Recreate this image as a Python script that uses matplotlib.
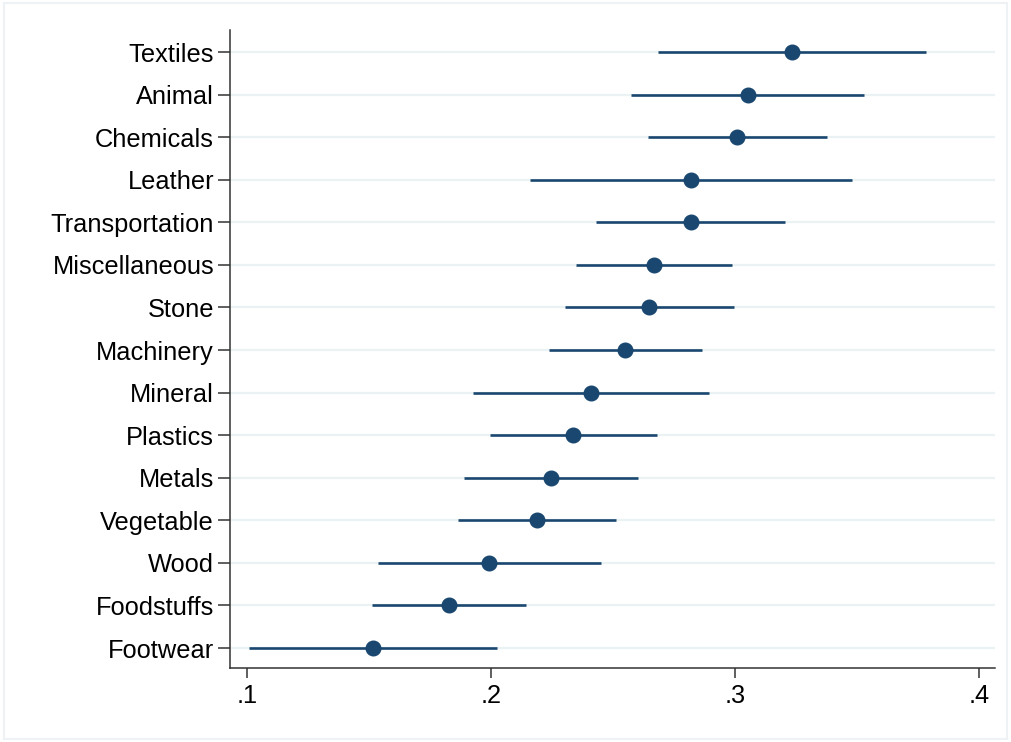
import numpy as np
from matplotlib import pyplot as plt
from matplotlib.patches import Rectangle

# data (top to bottom)
sectors = ['Textiles', 'Animal', 'Chemicals', 'Leather', 'Transportation',
           'Miscellaneous', 'Stone', 'Machinery', 'Mineral', 'Plastics',
           'Metals', 'Vegetable', 'Wood', 'Foodstuffs', 'Footwear']
estimate = [0.3234, 0.3053, 0.3008, 0.2820, 0.2820,
            0.2668, 0.2648, 0.2549, 0.2410, 0.2336,
            0.2246, 0.2189, 0.1992, 0.1828, 0.1516]
ci_low = [0.2684, 0.2574, 0.2643, 0.2160, 0.2430,
          0.2348, 0.2303, 0.2238, 0.1926, 0.1996,
          0.1889, 0.1865, 0.1537, 0.1512, 0.1008]
ci_high = [0.3783, 0.3529, 0.3377, 0.3480, 0.3205,
           0.2988, 0.2996, 0.2865, 0.2893, 0.2680,
           0.2602, 0.2512, 0.2451, 0.2143, 0.2025]
xticks = [0.1, 0.2, 0.3, 0.4]
xticklabels = ['.1', '.2', '.3', '.4']

navy = '#1a476f'
grid_col = '#eaf2f3'

plt.rcParams['font.family'] = ['Liberation Sans', 'DejaVu Sans']

fig = plt.figure(figsize=(10.11, 7.42), dpi=100)
fig.patches.append(Rectangle((0.004, 0.004), 0.992, 0.992, transform=fig.transFigure,
                             fill=False, edgecolor='#eef2f4', linewidth=1.5))
ax = fig.add_axes([0.2275, 0.0997, 0.7565, 0.8599])

ypos = np.arange(len(sectors))

for y in ypos:
    ax.axhline(y, color=grid_col, linewidth=1.6, zorder=0)

ax.hlines(ypos, ci_low, ci_high, color=navy, linewidth=1.9, zorder=2)
ax.plot(estimate, ypos, 'o', color=navy, markersize=10.5, zorder=3)

ax.set_ylim(len(sectors) - 1 + 0.47, -0.52)
ax.set_xlim(0.093, 0.4066)
ax.set_yticks(ypos)
ax.set_yticklabels(sectors, fontsize=18.3)
ax.set_xticks(xticks)
ax.set_xticklabels(xticklabels, fontsize=18.3)

for side in ['top', 'right']:
    ax.spines[side].set_visible(False)
for side in ['left', 'bottom']:
    ax.spines[side].set_color('#333333')
    ax.spines[side].set_linewidth(1.1)

ax.tick_params(axis='y', length=8.5, width=1.1, color='#333333', pad=3)
ax.tick_params(axis='x', length=7.5, width=1.1, color='#333333', pad=4)

fig.savefig('out.png', dpi=100)
